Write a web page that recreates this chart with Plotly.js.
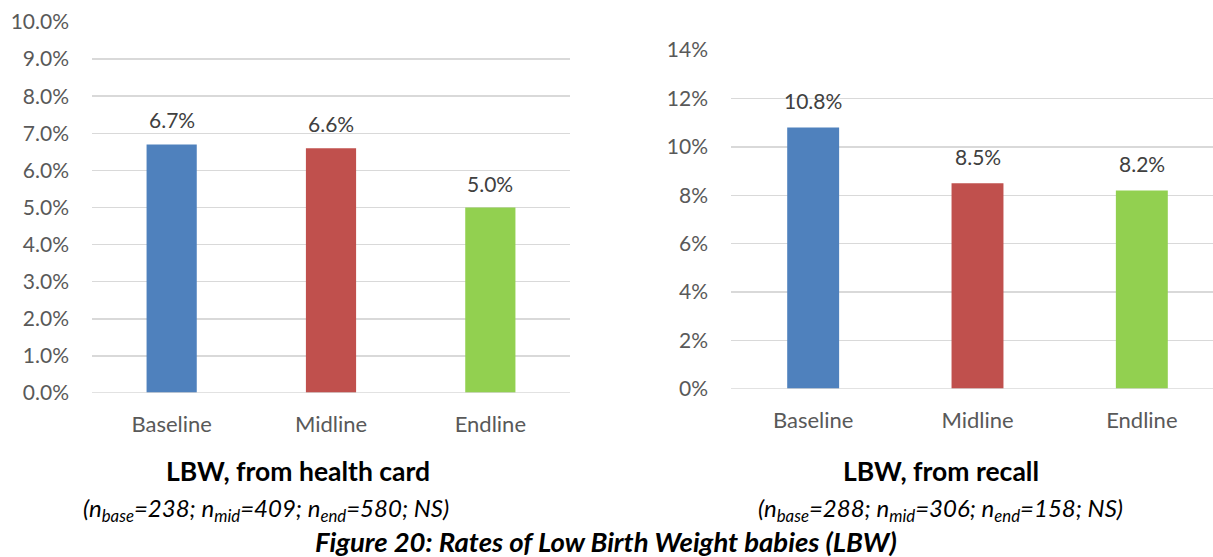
<!DOCTYPE html>
<html>
<head>
<meta charset="utf-8">
<script src="https://cdn.plot.ly/plotly-3.0.1.min.js"></script>
<style>
html,body{margin:0;padding:0;background:#fff;overflow:hidden;}
#chart{width:1240px;height:557px;}
</style>
</head>
<body>
<div id="chart"></div>
<script>
const categories = ['Baseline', 'Midline', 'Endline'];
const healthCardRates = [0.067, 0.066, 0.050];
const recallRates = [0.108, 0.085, 0.082];
const barColors = ['#4F81BD', '#C0504D', '#92D050'];
const leftTitle = 'LBW, from health card';
const leftSubtitle = '(n<sub>base</sub>=238; n<sub>mid</sub>=409; n<sub>end</sub>=580; NS)';
const rightTitle = 'LBW, from recall';
const rightSubtitle = '(n<sub>base</sub>=288; n<sub>mid</sub>=306; n<sub>end</sub>=158; NS)';
const caption = 'Figure 20: Rates of Low Birth Weight babies (LBW)';

const W = 1240, H = 557;
const FONT = 'Lato, "Open Sans", sans-serif';
const px = v => v / W;
const py = v => (H - v) / H;

const traces = [
  {type:'bar', x:categories, y:healthCardRates, xaxis:'x', yaxis:'y',
   marker:{color:barColors}, width:0.315, hoverinfo:'none'},
  {type:'bar', x:categories, y:recallRates, xaxis:'x2', yaxis:'y2',
   marker:{color:barColors}, width:0.316, hoverinfo:'none'}
];

const annotations = [];
categories.forEach((c, i) => {
  annotations.push({xref:'x', yref:'y', x:c, y:healthCardRates[i], text:(healthCardRates[i]*100).toFixed(1)+'%',
    showarrow:false, xanchor:'center', yanchor:'bottom', yshift:10, font:{family:FONT, size:21, color:'#404040'}});
  annotations.push({xref:'x2', yref:'y2', x:c, y:recallRates[i], text:(recallRates[i]*100).toFixed(1)+'%',
    showarrow:false, xanchor:'center', yanchor:'bottom', yshift:12, font:{family:FONT, size:21, color:'#404040'}});
});
const T = (x, y, text, size) => ({xref:'paper', yref:'paper', x:px(x), y:py(y), text:text, showarrow:false,
  xanchor:'center', yanchor:'middle', font:{family:FONT, size:size, color:'#000'}});
annotations.push(
  T(298, 471, '<b>'+leftTitle+'</b>', 26.5),
  T(266, 509, '<i>'+leftSubtitle+'</i>', 24),
  T(941, 471, '<b>'+rightTitle+'</b>', 26.5),
  T(940, 509, '<i>'+rightSubtitle+'</i>', 24),
  T(606, 541, '<b><i>'+caption+'</i></b>', 27.5)
);

const axisCommon = {showline:false, ticks:'', zeroline:false, fixedrange:true};
const tf = {family:FONT, size:21, color:'#595959'};
const layout = {
  width:W, height:H,
  margin:{l:0, r:0, t:0, b:0},
  paper_bgcolor:'#fff', plot_bgcolor:'#fff',
  showlegend:false,
  font:{family:FONT, color:'#595959', size:20},
  xaxis:Object.assign({}, axisCommon, {domain:[px(92), px(570)], anchor:'y',
    tickfont:Object.assign({}, tf, {size:22}), ticklabelstandoff:16}),
  yaxis:Object.assign({}, axisCommon, {domain:[py(393), py(22)], anchor:'x', range:[0, 0.10], dtick:0.01,
    tickformat:'.1%', gridcolor:'#D9D9D9', gridwidth:1.5, showgrid:true,
    tickfont:tf, ticklabelstandoff:22}),
  xaxis2:Object.assign({}, axisCommon, {domain:[px(731), px(1224)], anchor:'y2',
    tickfont:Object.assign({}, tf, {size:22}), ticklabelstandoff:16}),
  yaxis2:Object.assign({}, axisCommon, {domain:[py(389), py(50)], anchor:'x2', range:[0, 0.14], dtick:0.02,
    tickformat:'.0%', gridcolor:'#D9D9D9', gridwidth:1.5, showgrid:true,
    tickfont:tf, ticklabelstandoff:22}),
  annotations:annotations,
  shapes:[
    {type:'line', xref:'x domain', yref:'y', x0:0, x1:1, y0:0, y1:0, line:{color:'#D9D9D9', width:1.5}},
    {type:'line', xref:'x2 domain', yref:'y2', x0:0, x1:1, y0:0, y1:0, line:{color:'#D9D9D9', width:1.5}}
  ]
};

Plotly.newPlot('chart', traces, layout, {displayModeBar:false, staticPlot:true});
</script>
</body>
</html>
